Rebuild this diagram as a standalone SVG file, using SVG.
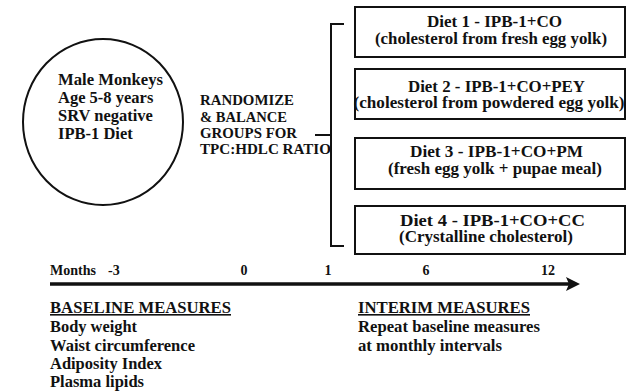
<svg xmlns="http://www.w3.org/2000/svg" width="630" height="392" viewBox="0 0 630 392">
<style>
text{font-family:"Liberation Serif","Times New Roman",serif;font-weight:bold;fill:#111}
.c{font-size:16.5px}
.r{font-size:14.5px}
.b{font-size:16px;text-anchor:middle}
.t{font-size:14px}
.m{font-size:16px}
.box{fill:#fff;stroke:#111;stroke-width:2}
.ln{fill:none;stroke:#111;stroke-width:2}
</style>
<rect width="630" height="392" fill="#fff"/>
<g id="monkeys">
<ellipse cx="103" cy="122" rx="80" ry="83" class="ln"/>
<text class="c" x="58" y="85" textLength="105" lengthAdjust="spacingAndGlyphs">Male Monkeys</text>
<text class="c" x="58" y="103">Age 5-8 years</text>
<text class="c" x="58" y="121">SRV negative</text>
<text class="c" x="58" y="139">IPB-1 Diet</text>
</g>
<g id="randomize">
<text class="r" x="200" y="105" textLength="94" lengthAdjust="spacingAndGlyphs">RANDOMIZE</text>
<text class="r" x="200" y="121.5" textLength="87" lengthAdjust="spacingAndGlyphs">&amp; BALANCE</text>
<text class="r" x="200" y="138" textLength="97" lengthAdjust="spacingAndGlyphs">GROUPS FOR</text>
<text class="r" x="200" y="154" textLength="131" lengthAdjust="spacingAndGlyphs">TPC:HDLC RATIO</text>
</g>
<g id="connectors">
<path class="ln" d="M344,24 H331 V246 H344"/>
<path class="ln" d="M315,135 H331"/>
<path d="M50,284 H570" stroke="#111" stroke-width="3.5" fill="none"/>
<path d="M566,277 L580,284 L566,291 L569,284 Z" fill="#111"/>
</g>
<g id="diet1">
<rect class="box" x="355" y="7" width="270" height="50"/>
<text class="b" x="494.5" y="27" textLength="135" lengthAdjust="spacingAndGlyphs">Diet 1 - IPB-1+CO</text>
<text class="b" x="491" y="44" textLength="232" lengthAdjust="spacingAndGlyphs">(cholesterol from fresh egg yolk)</text>
</g>
<g id="diet2">
<rect class="box" x="355" y="69" width="270" height="50"/>
<text class="b" x="496.5" y="92" textLength="177" lengthAdjust="spacingAndGlyphs">Diet 2 - IPB-1+CO+PEY</text>
<text class="b" x="489" y="108" textLength="271" lengthAdjust="spacingAndGlyphs">(cholesterol from powdered egg yolk)</text>
</g>
<g id="diet3">
<rect class="box" x="355" y="138" width="270" height="51"/>
<text class="b" x="496.5" y="157" textLength="173" lengthAdjust="spacingAndGlyphs">Diet 3 - IPB-1+CO+PM</text>
<text class="b" x="495" y="174" textLength="214" lengthAdjust="spacingAndGlyphs">(fresh egg yolk + pupae meal)</text>
</g>
<g id="diet4">
<rect class="box" x="355" y="206" width="270" height="48"/>
<text class="b" x="492.5" y="226" textLength="185" lengthAdjust="spacingAndGlyphs">Diet 4 - IPB-1+CO+CC</text>
<text class="b" x="486" y="242" textLength="174" lengthAdjust="spacingAndGlyphs">(Crystalline cholesterol)</text>
</g>
<g id="timeline-labels">
<text class="t" x="50" y="275">Months</text>
<text class="t" x="108" y="275">-3</text>
<text class="t" x="244" y="275" text-anchor="middle">0</text>
<text class="t" x="328" y="275" text-anchor="middle">1</text>
<text class="t" x="426" y="275" text-anchor="middle">6</text>
<text class="t" x="548" y="275" text-anchor="middle">12</text>
</g>
<g id="baseline">
<text class="m" x="50" y="313" text-decoration="underline" textLength="181" lengthAdjust="spacingAndGlyphs">BASELINE MEASURES</text>
<text class="m" x="50" y="332" textLength="87" lengthAdjust="spacingAndGlyphs">Body weight</text>
<text class="m" x="50" y="351" textLength="145" lengthAdjust="spacingAndGlyphs">Waist circumference</text>
<text class="m" x="50" y="369" textLength="112" lengthAdjust="spacingAndGlyphs">Adiposity Index</text>
<text class="m" x="50" y="387" textLength="94" lengthAdjust="spacingAndGlyphs">Plasma lipids</text>
</g>
<g id="interim">
<text class="m" x="358" y="313" text-decoration="underline" textLength="172" lengthAdjust="spacingAndGlyphs">INTERIM MEASURES</text>
<text class="m" x="358" y="332" textLength="182" lengthAdjust="spacingAndGlyphs">Repeat baseline measures</text>
<text class="m" x="358" y="351" textLength="144" lengthAdjust="spacingAndGlyphs">at monthly intervals</text>
</g>
</svg>
